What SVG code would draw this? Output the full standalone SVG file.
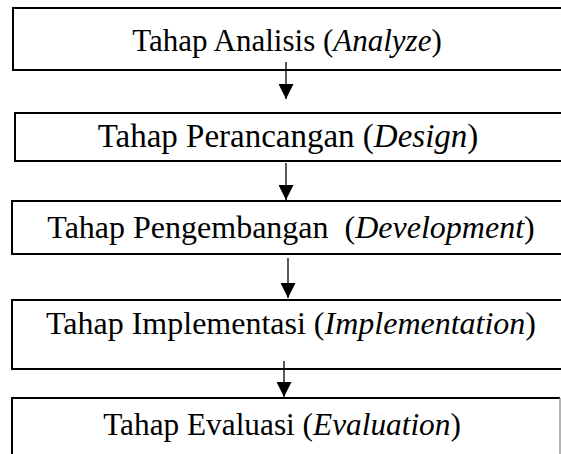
<svg xmlns="http://www.w3.org/2000/svg" width="561" height="454" viewBox="0 0 561 454">
  <style>
    .box { fill: #ffffff; stroke: #000000; stroke-width: 2; }
    .label { font-family: "Liberation Serif", "Times New Roman", serif; font-size: 31px; fill: #000000; text-anchor: middle; white-space: pre; }
    .it { font-style: italic; }
    .conn { stroke: #000000; stroke-width: 1.3; fill: none; }
  </style>
  <defs>
    <marker id="arrowhead" markerUnits="userSpaceOnUse" markerWidth="16" markerHeight="15" refX="15" refY="7.5" orient="auto">
      <path d="M0,0 L15,7.5 L0,15 Z" fill="#000000"/>
    </marker>
  </defs>

  <g id="node-analyze">
    <rect class="box" x="13" y="8" width="570" height="62"/>
    <text class="label" x="287" y="51" style="font-size:31px">Tahap Analisis (<tspan class="it">Analyze</tspan>)</text>
  </g>

  <g id="node-design">
    <rect class="box" x="15" y="113" width="570" height="48"/>
    <text class="label" x="288" y="147" style="font-size:33px">Tahap Perancangan (<tspan class="it">Design</tspan>)</text>
  </g>

  <g id="node-development">
    <rect class="box" x="12" y="201" width="570" height="53"/>
    <text class="label" x="291" y="238" style="font-size:32px">Tahap Pengembangan  (<tspan class="it">Development</tspan>)</text>
  </g>

  <g id="node-implementation">
    <rect class="box" x="12" y="300" width="570" height="69"/>
    <text class="label" x="291" y="334" style="font-size:32px">Tahap Implementasi (<tspan class="it">Implementation</tspan>)</text>
  </g>

  <g id="node-evaluation">
    <path class="box" d="M12,470 L12,398 L560,398"/>
    <line x1="560" y1="398" x2="560" y2="470" stroke="#9a9a9a" stroke-width="1.5"/>
    <text class="label" x="282" y="435" style="font-size:31.3px">Tahap Evaluasi (<tspan class="it">Evaluation</tspan>)</text>
  </g>

  <g id="connectors">
    <line class="conn" x1="286" y1="62" x2="286" y2="99" marker-end="url(#arrowhead)"/>
    <line class="conn" x1="286" y1="163" x2="286" y2="200" marker-end="url(#arrowhead)"/>
    <line class="conn" x1="288" y1="258" x2="288" y2="298" marker-end="url(#arrowhead)"/>
    <line class="conn" x1="284" y1="361" x2="284" y2="397" marker-end="url(#arrowhead)"/>
  </g>
</svg>
